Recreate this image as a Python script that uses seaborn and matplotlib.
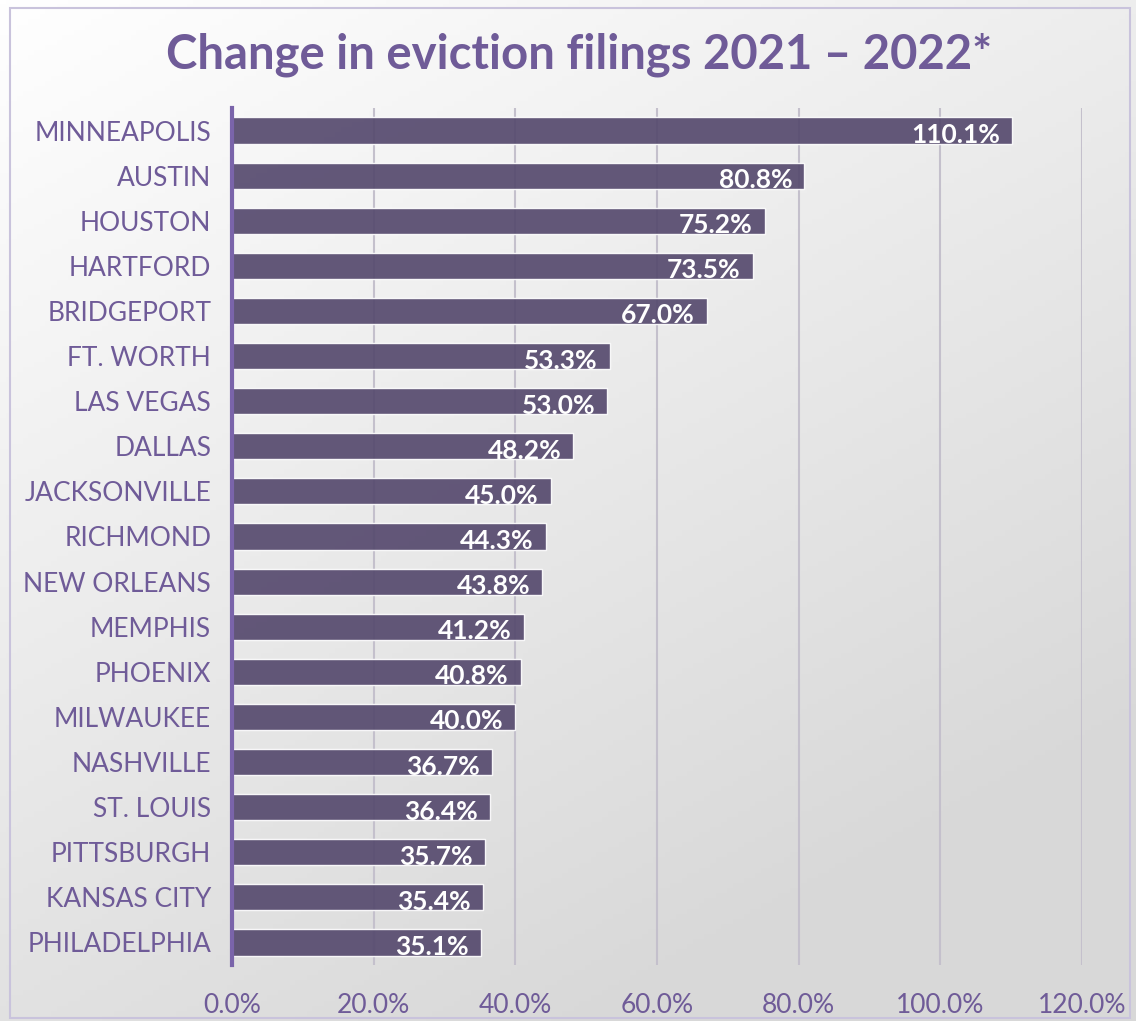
import numpy as np
import pandas as pd
import matplotlib.pyplot as plt
import seaborn as sns
from matplotlib.patches import Rectangle
from matplotlib.ticker import FuncFormatter

# -------------------------------------------------
# Data
# -------------------------------------------------
cities = ["MINNEAPOLIS", "AUSTIN", "HOUSTON", "HARTFORD", "BRIDGEPORT",
          "FT. WORTH", "LAS VEGAS", "DALLAS", "JACKSONVILLE", "RICHMOND",
          "NEW ORLEANS", "MEMPHIS", "PHOENIX", "MILWAUKEE", "NASHVILLE",
          "ST. LOUIS", "PITTSBURGH", "KANSAS CITY", "PHILADELPHIA"]
change_pct = [110.1, 80.8, 75.2, 73.5, 67.0, 53.3, 53.0, 48.2, 45.0, 44.3,
              43.8, 41.2, 40.8, 40.0, 36.7, 36.4, 35.7, 35.4, 35.1]
x_ticks = [0, 20, 40, 60, 80, 100, 120]

df = pd.DataFrame({"city": cities, "change": change_pct})

purple_text = "#6f5b98"
bar_color = "#564a6e"

sns.set_theme(style="white")
plt.rcParams['font.family'] = ['Lato', 'DejaVu Sans']

fig = plt.figure(figsize=(11.36, 10.21), dpi=100)

# gradient background
bg = fig.add_axes([0, 0, 1, 1], zorder=-2)
yy, xx = np.mgrid[0:1:200j, 0:1:200j]
grad = 1.0 - 0.15 * np.clip((xx * 0.6 + yy * 1.0) / 1.3, 0, 1)
bg.imshow(np.dstack([grad, grad, grad]), extent=[0, 1, 0, 1],
          aspect='auto', origin='upper')
bg.add_patch(Rectangle((0.009, 0.003), 0.986, 0.989, fill=False,
                       edgecolor="#c9c3dc", linewidth=1.5,
                       transform=bg.transAxes))
bg.axis('off')

# plot area
ax = fig.add_axes([232 / 1136, 1 - 965 / 1021, 850 / 1136, 857 / 1021])
ax.patch.set_alpha(0)
sns.barplot(data=df, x="change", y="city", orient="h", color=bar_color,
            width=0.58, saturation=1, alpha=0.92, ax=ax, zorder=2)

ax.set_xlim(0, 120)
ax.set_ylim(len(cities) - 0.5, -0.5)
ax.set_xticks(x_ticks)
ax.xaxis.set_major_formatter(FuncFormatter(lambda v, p: f"{v:.1f}%"))
ax.grid(axis='x', color="#c4c0cc", linewidth=1.5, zorder=0)
ax.set_axisbelow(True)
for s in ["top", "right", "bottom"]:
    ax.spines[s].set_visible(False)
ax.spines["left"].set_color("#7a64aa")
ax.spines["left"].set_linewidth(3)
ax.spines["left"].set_zorder(3)
ax.set_xlabel("")
ax.set_ylabel("")
ax.tick_params(axis='y', length=0, pad=15, labelsize=19, labelcolor=purple_text)
ax.tick_params(axis='x', length=0, pad=20, labelsize=19, labelcolor=purple_text)

# value labels inside bar ends
for i, v in enumerate(change_pct):
    ax.text(v - 1.7, i + 0.1, f"{v:.1f}%", ha='right', va='center',
            color='white', fontsize=19, fontweight='bold', zorder=4)

fig.text(0.51, 1 - 55 / 1021, "Change in eviction filings 2021 \u2013 2022*",
         ha='center', va='center', fontsize=34, fontweight='bold',
         color=purple_text)

fig.savefig("out.png", dpi=100)
